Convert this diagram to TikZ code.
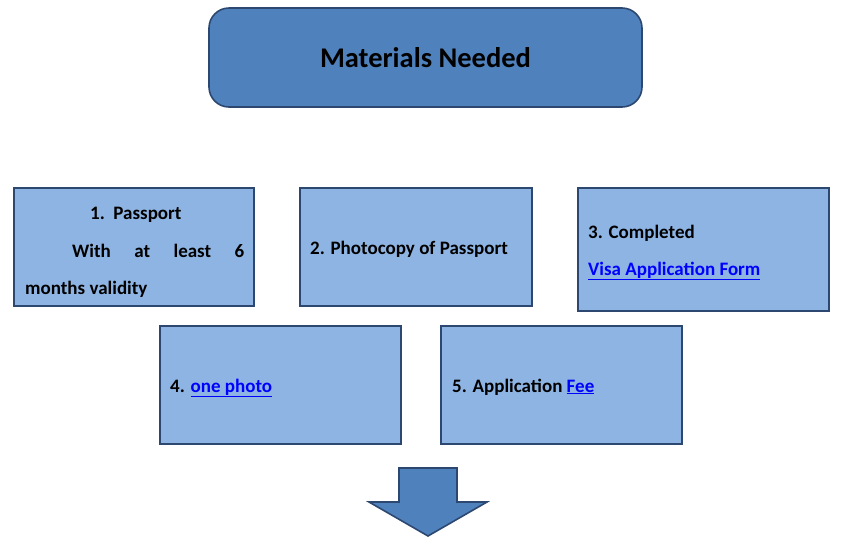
\documentclass[tikz,border=0pt]{standalone}
\usepackage{fontspec}
\setmainfont{Carlito}
\usetikzlibrary{positioning}
\definecolor{darkfill}{HTML}{4F81BD}
\definecolor{lightfill}{HTML}{8EB4E3}
\definecolor{edgeblue}{HTML}{2C4870}
\definecolor{linkblue}{HTML}{0000FF}
\newcommand{\lnk}[1]{\textcolor{linkblue}{\underline{#1}}}
\begin{document}
\begin{tikzpicture}[x=1pt,y=-1pt,
  titlebox/.style={draw=edgeblue, line width=1.6pt, fill=darkfill, rounded corners=20pt, inner sep=0pt},
  itembox/.style={draw=edgeblue, line width=2pt, fill=lightfill, inner sep=0pt},
  itemtext/.style={anchor=base west, inner sep=0pt, font=\fontsize{19}{22}\selectfont\bfseries},
  bigarrow/.style={draw=edgeblue, line width=1.6pt, fill=darkfill, line join=miter}
]
\useasboundingbox (0,0) rectangle (856,547);
% title
\node[titlebox, minimum width=433pt, minimum height=99pt, font=\fontsize{28.5}{32}\selectfont\bfseries] (title) at (425.5,57.5) {Materials Needed};
% boxes
\node[itembox, minimum width=240pt, minimum height=118pt] (b1) at (134,247) {};
\node[itembox, minimum width=232pt, minimum height=118pt] (b2) at (416,247) {};
\node[itembox, minimum width=251pt, minimum height=123pt] (b3) at (703.5,249.5) {};
\node[itembox, minimum width=241pt, minimum height=118pt] (b4) at (280.5,385) {};
\node[itembox, minimum width=241pt, minimum height=118pt] (b5) at (561.5,385) {};
% texts
\node[itemtext] (t1a) at (90,219) {1.\ \ Passport};
\node[itemtext] (t1b) at (72,257) {\makebox[172pt][s]{With\hfill at\hfill least\hfill 6}};
\node[itemtext] (t1c) at (25,294) {months validity};
\node[itemtext] (t2) at (310,254) {2. Photocopy of Passport};
\node[itemtext] (t3a) at (588,238) {3. Completed};
\node[itemtext] (t3b) at (588,275) {\lnk{Visa Application Form}};
\node[itemtext] (t4) at (170,392) {4. \lnk{one photo}};
\node[itemtext] (t5) at (452,392) {5. Application \lnk{Fee}};
% arrow
\draw[bigarrow] (399,468) -- (457,468) -- (457,502) -- (487,502) -- (428,536) -- (369,502) -- (399,502) -- cycle;
\end{tikzpicture}
\end{document}
